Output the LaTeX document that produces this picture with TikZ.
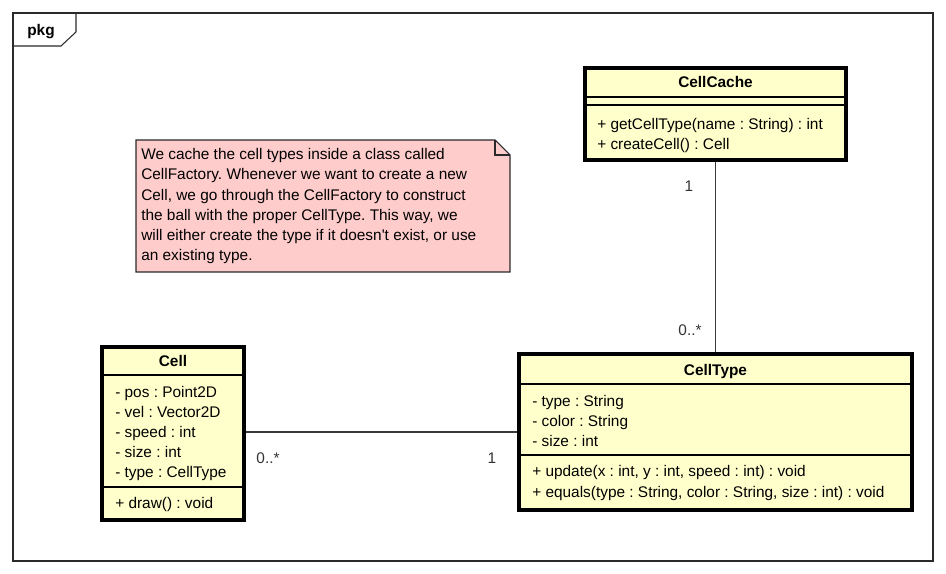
\documentclass[tikz,border=0pt]{standalone}
\usepackage{fontspec}
\setmainfont{Liberation Sans}
\frenchspacing
\usepackage{xcolor}
\definecolor{cFill}{HTML}{FFFFCC}
\definecolor{cNote}{HTML}{FFCCCC}
\definecolor{cLine}{HTML}{3A3A3A}
\definecolor{cFrame}{HTML}{2A2A2A}
\usepackage{tikz}
\usetikzlibrary{positioning,fit,calc}
\tikzset{
  uml-class/.style={draw=black,line width=2.3pt,fill=cFill,inner sep=0pt},
  uml-sep/.style={draw=black,line width=0.8pt},
  uml-name/.style={font=\bfseries\fontsize{11.55}{15}\selectfont,inner sep=0pt,anchor=base},
  uml-item/.style={font=\fontsize{11.55}{15}\selectfont,inner sep=0pt,anchor=base west},
  uml-mult/.style={font=\fontsize{11.55}{15}\selectfont,inner sep=0pt,anchor=base,text=black!80},
  uml-note/.style={draw=cFrame,line width=0.8pt,fill=cNote},
  uml-assoc/.style={draw=cLine,line width=0.8pt},
  pkg-frame/.style={draw=cFrame,line width=0.8pt,inner sep=0pt},
}

\begin{document}
\begin{tikzpicture}[x=0.75pt,y=-0.75pt]
  \useasboundingbox (0,0) rectangle (946,574);
  % package frame
  \node[pkg-frame,fit={(13,13) (933,561)}] (frame) {};
  \draw[pkg-frame] (13,46) -- (61,46) -- (76,32) -- (76,13);
  \node[uml-name] (pkgname) at (41,36) {pkg};

  % note
  \draw[uml-note] (136,140) -- (495,140) -- (510,155) -- (510,272) -- (136,272) -- cycle;
  \draw[uml-note,fill=none] (495,140) -- (495,155) -- (510,155);
  \foreach \txt [count=\i from 0] in {%
      {We cache the cell types inside a class called},
      {CellFactory. Whenever we want to create a new},
      {Cell, we go through the CellFactory to construct},
      {the ball with the proper CellType. This way, we},
      {will either create the type if it doesn\textquotesingle t exist, or use},
      {an existing type.}}
    \node[uml-item] (note\i) at (141,160+20*\i) {\txt};

  % CellCache
  \node[uml-class,fit={(585,68) (846,160)}] (cache) {};
  \node[uml-name] (cacheName) at (715.5,88) {CellCache};
  \draw[uml-sep] (585,97) -- (846,97);
  \draw[uml-sep] (585,105) -- (846,105);
  \node[uml-item] (cacheOp0) at (597,130) {+ getCellType(name : String) : int};
  \node[uml-item] (cacheOp1) at (597,150) {+ createCell() : Cell};

  % Cell
  \node[uml-class,fit={(102,347) (244,520)}] (cell) {};
  \node[uml-name] (cellName) at (173,366) {Cell};
  \draw[uml-sep] (102,375) -- (244,375);
  \foreach \txt [count=\i from 0] in {- pos : Point2D, - vel : Vector2D,
      - speed : int, - size : int, - type : CellType}
    \node[uml-item] (cellAttr\i) at (115,397+20*\i) {\txt};
  \draw[uml-sep] (102,487) -- (244,487);
  \node[uml-item] (cellOp0) at (115,508) {+ draw() : void};

  % CellType
  \node[uml-class,fit={(519,354) (912,510)}] (ctype) {};
  \node[uml-name] (ctypeName) at (715.5,375) {CellType};
  \draw[uml-sep] (519,384) -- (912,384);
  \foreach \txt [count=\i from 0] in {- type : String, - color : String, - size : int}
    \node[uml-item] (ctypeAttr\i) at (532,406+20*\i) {\txt};
  \draw[uml-sep] (519,455) -- (912,455);
  \node[uml-item] (ctypeOp0) at (532,476) {+ update(x : int, y : int, speed : int) : void};
  \node[uml-item] (ctypeOp1) at (532,497) {+ equals(type : String, color : String, size : int) : void};

  % associations
  \draw[uml-assoc] (cache.south) -- (ctype.north);
  \draw[uml-assoc] (cell.east |- ctype.west) -- (ctype.west);
  \node[uml-mult] (multCache) at (689,192) {1};
  \node[uml-mult] (multTypeTop) at (690,335) {0..*};
  \node[uml-mult] (multCell) at (268,463) {0..*};
  \node[uml-mult] (multTypeLeft) at (492,463) {1};
\end{tikzpicture}
\end{document}
